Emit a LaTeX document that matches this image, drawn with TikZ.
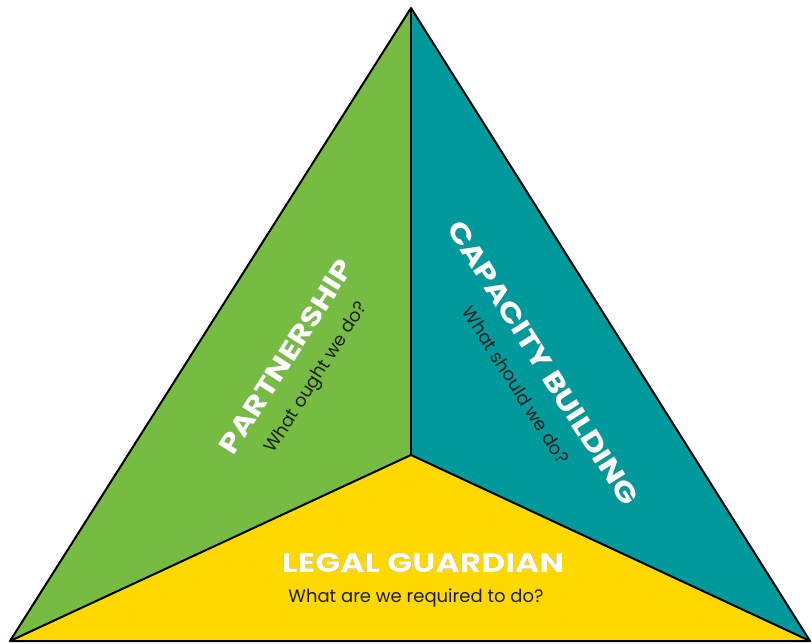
\documentclass[tikz,border=0pt]{standalone}
\usepackage{fontspec}
\setmainfont{Poppins}
\newfontfamily\headfont[FakeStretch=1.22]{Poppins}
\usepackage[outline]{contour}
\contourlength{0.9pt}
\definecolor{leafgreen}{HTML}{76BC43}
\definecolor{tealblue}{HTML}{009A9C}
\definecolor{sunyellow}{HTML}{FFD800}
\definecolor{rimgrey}{HTML}{707070}
\definecolor{inkdark}{HTML}{1E1E1E}
\newcommand{\rimtext}[1]{\contour{rimgrey}{\textcolor{white}{#1}}}
\begin{document}
\begin{tikzpicture}[x=1pt,y=-1pt,
  edge/.style={draw=black,line width=2pt,line join=round},
  title/.style={font=\headfont\bfseries\fontsize{27}{30}\selectfont,inner sep=0pt},
  subtitle/.style={font=\fontsize{18}{21}\selectfont,text=inkdark,inner sep=0pt}]
\useasboundingbox (0,0) rectangle (812,644);
% corners of the pyramid and its centre
\coordinate (apex) at (411,8);
\coordinate (left) at (10,641);
\coordinate (right) at (810,641);
\coordinate (mid) at (411,455);
% three faces
\fill[leafgreen] (apex) -- (mid) -- (left) -- cycle;
\fill[tealblue] (apex) -- (right) -- (mid) -- cycle;
\fill[sunyellow] (left) -- (mid) -- (right) -- cycle;
% edges
\draw[edge] (apex) -- (left) -- (right) -- cycle;
\draw[edge] (mid) -- (apex);
\draw[edge] (mid) -- (left);
\draw[edge] (mid) -- (right);
% labels
\node[title,rotate=57.6] (partner) at (286,357) {\rimtext{PARTNERSHIP}};
\node[subtitle,rotate=57.6] (partnerq) at (317,378) {What ought we do?};
\node[title,rotate=-57.6] (capacity) at (543,363) {\rimtext{CAPACITY BUILDING}};
\node[subtitle,rotate=-57.6] (capacityq) at (516,385) {What should we do?};
\node[title] (legal) at (423,563) {\rimtext{LEGAL GUARDIAN}};
\node[subtitle] (legalq) at (416,598) {What are we required to do?};
\end{tikzpicture}
\end{document}
